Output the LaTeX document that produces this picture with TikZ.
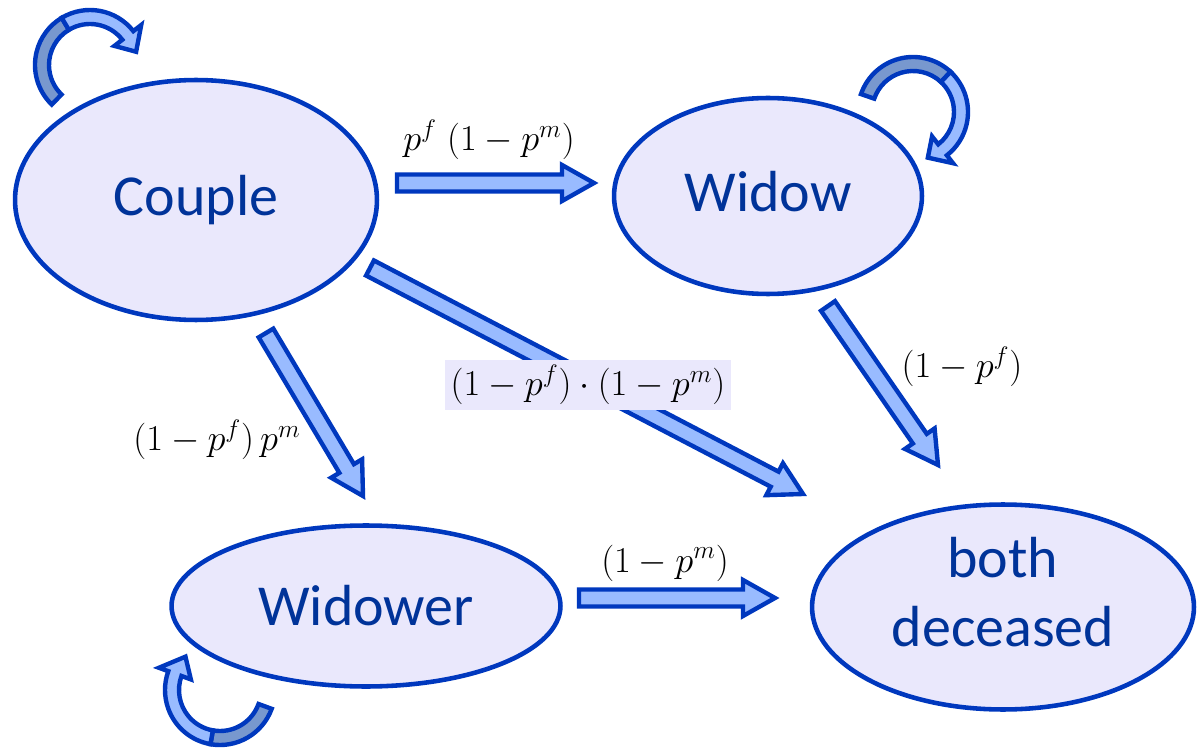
\documentclass[tikz,border=0pt]{standalone}
\usepackage{fontspec}
\newfontfamily\carlito{Carlito}
\usetikzlibrary{shapes.geometric,calc}
\definecolor{stateline}{RGB}{0,56,190}
\definecolor{statefill}{RGB}{234,232,252}
\definecolor{statetext}{RGB}{0,51,153}
\definecolor{arrowfill}{RGB}{153,187,255}
\definecolor{loopdark}{RGB}{120,152,206}
% block arrow from tail #1 to tip #2
\newcommand\blockarrow[2]{%
  \coordinate (ba) at ($(#2)!0.64cm!(#1)$);
  \filldraw[blockarr] ($(#1)!0.17cm!90:(#2)$) -- ($(ba)!0.17cm!90:(#2)$)
    -- ($(ba)!0.36cm!90:(#2)$) -- (#2) -- ($(ba)!0.36cm!-90:(#2)$)
    -- ($(ba)!0.17cm!-90:(#2)$) -- ($(#1)!0.17cm!-90:(#2)$) -- cycle;}
% curved arrow: centre, tail angle, twist angle, head angle, tip angle
\newcommand\selfloop[5]{%
  \filldraw[loopback] ($(#1)+(#2:55)$) arc[start angle=#2, end angle=#3, radius=55]
    -- ($(#1)+(#3:41)$) arc[start angle=#3, end angle=#2, radius=41] -- cycle;
  \filldraw[loopfront] ($(#1)+(#3:55)$) arc[start angle=#3, end angle=#4, radius=55]
    -- ($(#1)+(#4:65)$) -- ($(#1)+(#5:48)$) -- ($(#1)+(#4:31)$) -- ($(#1)+(#4:41)$)
    arc[start angle=#4, end angle=#3, radius=41] -- cycle;}
\begin{document}
\begin{tikzpicture}[x=0.02cm,y=0.02cm,
  state/.style={ellipse,draw=stateline,fill=statefill,line width=2.6pt,inner sep=0pt},
  statename/.style={text=statetext,font=\carlito\fontsize{33}{39}\selectfont,align=center},
  blockarr/.style={draw=stateline,fill=arrowfill,line width=2.5pt},
  loopback/.style={draw=stateline,fill=loopdark,line width=2.5pt},
  loopfront/.style={draw=stateline,fill=arrowfill,line width=2.5pt},
  prob/.style={font=\fontsize{20.74}{25}\selectfont,inner sep=3pt}]
\useasboundingbox (0,0) rectangle (1200,748);
% states
\node[state,minimum width=7.24cm,minimum height=4.8cm] (couple) at (196,548) {};
\node[state,minimum width=6.16cm,minimum height=3.92cm] (widow) at (768,552) {};
\node[state,minimum width=7.78cm,minimum height=3.22cm] (widower) at (366,142) {};
\node[state,minimum width=7.64cm,minimum height=4.1cm] (both) at (1003,141) {};
\node[statename] (couple-name) at ($(couple)+(0,0)$) {Couple};
\node[statename] (widow-name) at ($(widow)+(0,4)$) {Widow};
\node[statename] (widower-name) at ($(widower)+(0,0)$) {Widower};
\node[statename] (both-name) at ($(both)+(0,15)$) {both\\deceased};
% arrow ends
\coordinate (cw-s) at (397,565);
\coordinate (cw-e) at (594,565);
\coordinate (cb-s) at (370,480);
\coordinate (cb-e) at (803,254);
\coordinate (cr-s) at (266,415);
\coordinate (cr-e) at (363,252);
\coordinate (wb-s) at (828,442);
\coordinate (wb-e) at (938,283);
\coordinate (rb-s) at (579,150);
\coordinate (rb-e) at (775,150);
\coordinate (couple-loop) at (90,683);
\coordinate (widow-loop) at (913,636);
\coordinate (widower-loop) at (220,58);
% transitions
\blockarrow{cw-s}{cw-e}
\blockarrow{cb-s}{cb-e}
\blockarrow{cr-s}{cr-e}
\blockarrow{wb-s}{wb-e}
\blockarrow{rb-s}{rb-e}
\selfloop{couple-loop}{226}{121}{38}{16}
\selfloop{widow-loop}{161}{47}{-52}{-72}
\selfloop{widower-loop}{-20}{-100}{-200}{-224}
% probabilities
\node[prob] (l-cw) at (489,608) {$p^{f}\;(1-p^{m})$};
\node[prob,fill=statefill] (l-cb) at (588,363) {$\bigl(1-p^{f}\bigr)\cdot(1-p^{m})$};
\node[prob] (l-cr) at (217,308) {$\bigl(1-p^{f}\bigr)\,p^{m}$};
\node[prob] (l-wb) at (962,381) {$\bigl(1-p^{f}\bigr)$};
\node[prob] (l-rb) at (665,185) {$(1-p^{m})$};
\end{tikzpicture}
\end{document}
